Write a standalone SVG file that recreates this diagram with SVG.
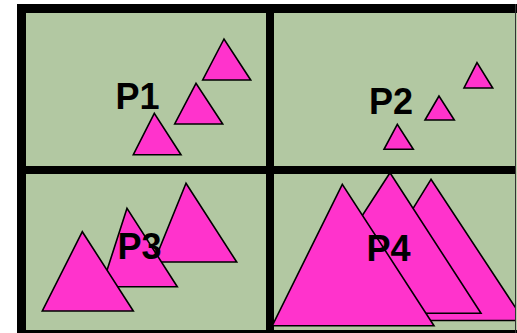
<svg xmlns="http://www.w3.org/2000/svg" width="517" height="333" viewBox="0 0 517 333">
  <style>
    .bg { fill: #b2c8a2; }
    .bar { fill: #000; }
    .tri { fill: #ff33cc; stroke: #000; stroke-width: 1.6; stroke-linejoin: miter; }
    .lbl { font-family: "Liberation Sans", Arial, sans-serif; font-weight: bold; font-size: 36px; fill: #000; }
  </style>
  <rect x="0" y="0" width="517" height="333" fill="#fff"/>
  <g id="frame">
    <rect class="bg" x="17" y="4" width="500" height="329"/>
    <rect class="bar" x="17" y="4" width="9" height="329"/>
    <rect class="bar" x="17" y="4" width="500" height="9"/>
    <rect class="bar" x="266" y="4" width="8" height="329"/>
    <rect class="bar" x="17" y="166" width="500" height="8"/>
    <rect class="bar" x="17" y="330" width="500" height="3"/>
  </g>
  <g id="P1">
    <polygon class="tri" points="224,39 202.7,80 250.7,80"/>
    <polygon class="tri" points="196,83.3 174.7,124 222.7,124"/>
    <polygon class="tri" points="154.3,113.3 133.3,154.7 181,154.7"/>
    <text class="lbl" x="115.5" y="109">P1</text>
  </g>
  <g id="P2">
    <polygon class="tri" points="477,62.7 464,88 492.7,88"/>
    <polygon class="tri" points="439,96 425,120 454.3,120"/>
    <polygon class="tri" points="397.3,124.3 384,149.3 413.3,149.3"/>
    <text class="lbl" x="369" y="114">P2</text>
  </g>
  <g id="P3">
    <polygon class="tri" points="186,183.3 154,262 236.7,262"/>
    <polygon class="tri" points="127,208.3 101.7,286.7 177.3,286.7"/>
    <polygon class="tri" points="82.3,231.7 42.3,311 133.3,311"/>
    <text class="lbl" x="117.5" y="259">P3</text>
  </g>
  <g id="P4">
    <polygon class="tri" points="431,179.3 344,320.5 524,320.5"/>
    <polygon class="tri" points="390,172.7 299,313.3 481,313.3"/>
    <polygon class="tri" points="342.3,184.3 272.3,325.7 434,325.7"/>
    <text class="lbl" x="366.5" y="260.5">P4</text>
  </g>
  <g id="edge">
    <rect x="515" y="4" width="1" height="329" fill="#333"/>
    <rect x="516" y="13" width="1" height="317" fill="#b8cca8"/>
  </g>
</svg>
